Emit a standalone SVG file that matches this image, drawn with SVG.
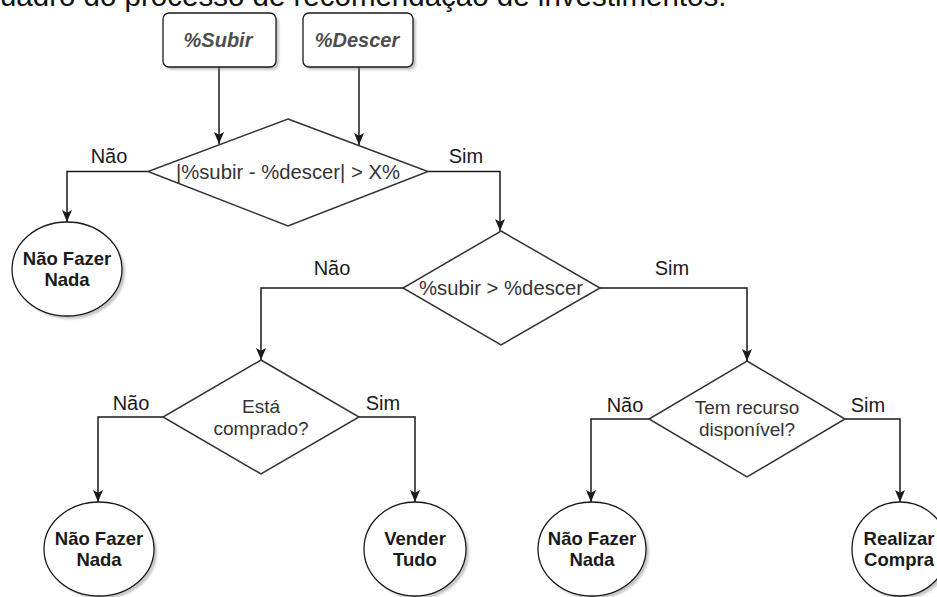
<svg xmlns="http://www.w3.org/2000/svg" width="937" height="597" viewBox="0 0 937 597">
<defs>
<style>
.bg{fill:#ffffff}
.box{fill:#ffffff;stroke:#1a1a1a;stroke-width:1.3}
.shadow{fill:#808080;opacity:0.45}
.dia{fill:#ffffff;stroke:#333333;stroke-width:1.5}
.circ{fill:#ffffff;stroke:#1a1a1a;stroke-width:1.3}
.conn{fill:none;stroke:#1a1a1a;stroke-width:1.5;marker-end:url(#arr)}
.btxt{font-family:"Liberation Sans",Arial,sans-serif;font-size:20px;font-weight:bold;font-style:italic;fill:#4d4d4d;text-anchor:middle}
.dtxt{font-family:"Liberation Sans",Arial,sans-serif;font-size:20.3px;fill:#333333;text-anchor:middle}
.dtxt2{font-family:"Liberation Sans",Arial,sans-serif;font-size:19px;fill:#333333;text-anchor:middle}
.ctxt{font-family:"Liberation Sans",Arial,sans-serif;font-size:18.5px;font-weight:bold;fill:#1a1a1a;text-anchor:middle}
.lbl{font-family:"Liberation Sans",Arial,sans-serif;font-size:20px;fill:#1a1a1a;text-anchor:middle}
.title{font-family:"Liberation Sans",Arial,sans-serif;font-size:29.5px;fill:#111111}
</style>
<filter id="blur" x="-20%" y="-20%" width="140%" height="140%"><feGaussianBlur stdDeviation="1.2"/></filter>
<marker id="arr" markerUnits="userSpaceOnUse" markerWidth="13" markerHeight="13" refX="12" refY="6.5" orient="auto">
<path d="M0,1.5 L12,6.5 L0,11.5 L2.8,6.5 Z" fill="#1a1a1a"/>
</marker>
</defs>
<rect class="bg" x="0" y="0" width="937" height="597"/>
<text class="title" x="-23" y="5.5">Quadro do processo de recomendação de investimentos.</text>

<g id="connectors">
<path class="conn" d="M219,67 L219,144"/>
<path class="conn" d="M359,67 L359,145"/>
<path class="conn" d="M148,171.5 L67,171.5 L67,222"/>
<path class="conn" d="M428,171.5 L500,171.5 L500,231"/>
<path class="conn" d="M403,288 L261,288 L261,360"/>
<path class="conn" d="M600,288 L747,288 L747,361"/>
<path class="conn" d="M163,417 L98,417 L98,502"/>
<path class="conn" d="M359,417 L415,417 L415,502"/>
<path class="conn" d="M649,419 L591,419 L591,502"/>
<path class="conn" d="M845,419 L900,419 L900,502"/>
</g>

<g id="labels">
<text class="lbl" x="109" y="163">Não</text>
<text class="lbl" x="466" y="163">Sim</text>
<text class="lbl" x="332" y="275">Não</text>
<text class="lbl" x="672" y="275">Sim</text>
<text class="lbl" x="131" y="410">Não</text>
<text class="lbl" x="383" y="410">Sim</text>
<text class="lbl" x="625" y="412">Não</text>
<text class="lbl" x="868" y="412">Sim</text>
</g>

<g id="subir">
<rect class="shadow" x="166" y="16" width="113" height="54" rx="6" filter="url(#blur)"/>
<rect class="box" x="163" y="13" width="113" height="54" rx="6"/>
<text class="btxt" x="218" y="47">%Subir</text>
</g>
<g id="descer">
<rect class="shadow" x="306" y="16" width="110" height="54" rx="6" filter="url(#blur)"/>
<rect class="box" x="303" y="13" width="110" height="54" rx="6"/>
<text class="btxt" x="357" y="47">%Descer</text>
</g>

<g id="decisao1">
<polygon class="dia" points="288,119 428,171.5 288,226 148,171.5"/>
<text class="dtxt" x="288" y="179">|%subir - %descer| &gt; X%</text>
</g>
<g id="decisao2">
<polygon class="dia" points="501,231 600,288 501,345 403,288"/>
<text class="dtxt" x="501" y="295">%subir &gt; %descer</text>
</g>
<g id="decisao3">
<polygon class="dia" points="261,360 359,417 261,474 163,417"/>
<text class="dtxt2" x="261" y="413">Está</text>
<text class="dtxt2" x="261" y="435">comprado?</text>
</g>
<g id="decisao4">
<polygon class="dia" points="747,361 845,419 747,477 649,419"/>
<text class="dtxt2" x="747" y="414">Tem recurso</text>
<text class="dtxt2" x="747" y="436">disponível?</text>
</g>

<g id="nada1">
<ellipse class="shadow" cx="70" cy="272" rx="55" ry="47" filter="url(#blur)"/>
<ellipse class="circ" cx="67" cy="269" rx="55" ry="47"/>
<text class="ctxt" x="67" y="265">Não Fazer</text>
<text class="ctxt" x="67" y="286">Nada</text>
</g>
<g id="nada2">
<ellipse class="shadow" cx="102" cy="552" rx="55" ry="47" filter="url(#blur)"/>
<ellipse class="circ" cx="99" cy="549" rx="55" ry="47"/>
<text class="ctxt" x="99" y="545">Não Fazer</text>
<text class="ctxt" x="99" y="566">Nada</text>
</g>
<g id="vender">
<ellipse class="shadow" cx="418" cy="552" rx="51" ry="47" filter="url(#blur)"/>
<ellipse class="circ" cx="415" cy="549" rx="51" ry="47"/>
<text class="ctxt" x="415" y="545">Vender</text>
<text class="ctxt" x="415" y="566">Tudo</text>
</g>
<g id="nada3">
<ellipse class="shadow" cx="595" cy="552" rx="54" ry="47" filter="url(#blur)"/>
<ellipse class="circ" cx="592" cy="549" rx="54" ry="47"/>
<text class="ctxt" x="592" y="545">Não Fazer</text>
<text class="ctxt" x="592" y="566">Nada</text>
</g>
<g id="comprar">
<ellipse class="shadow" cx="903" cy="552" rx="48" ry="47" filter="url(#blur)"/>
<ellipse class="circ" cx="900" cy="549" rx="48" ry="47"/>
<text class="ctxt" x="899" y="545">Realizar</text>
<text class="ctxt" x="899" y="566">Compra</text>
</g>
</svg>
